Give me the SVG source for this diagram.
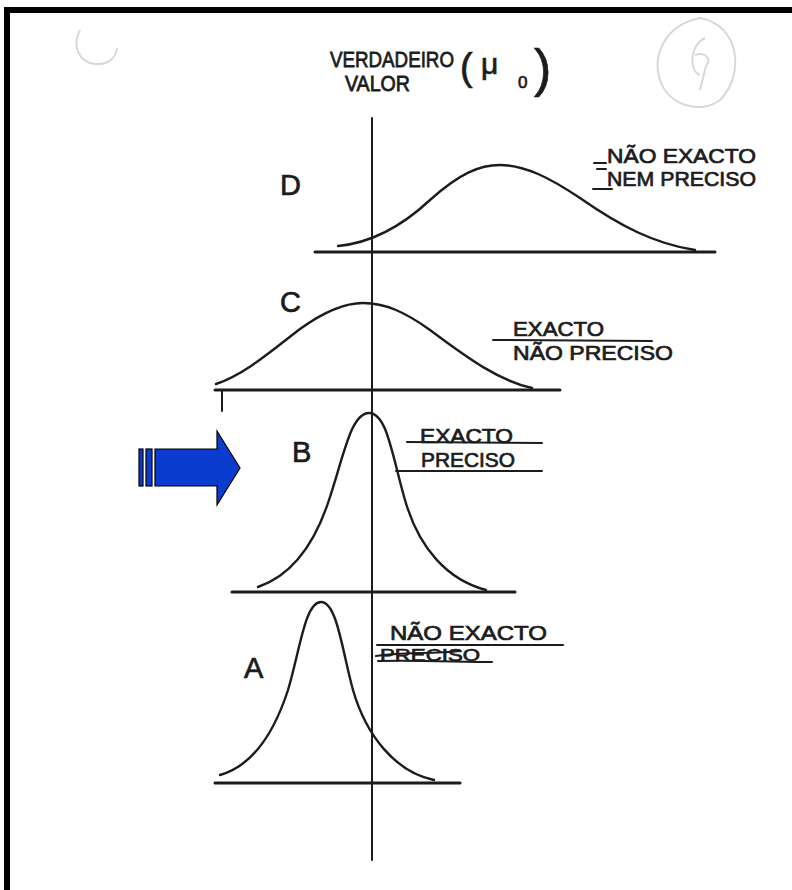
<svg xmlns="http://www.w3.org/2000/svg" width="792" height="890" viewBox="0 0 792 890">
<style>
.ink{fill:none;stroke:#1c1c1c;stroke-linecap:round;stroke-linejoin:round}
.curve{stroke-width:2.4}
.base{stroke-width:3}
.rule{stroke-width:2}
.lbl{font-family:"Liberation Sans","DejaVu Sans",Arial,sans-serif;fill:#1c1c1c;stroke:#1c1c1c;stroke-width:0.7}
.big{font-size:29px}
.txt{font-size:20px}
.faint{fill:none;stroke:#d8d8d8;stroke-width:2}
</style>
<rect x="0" y="0" width="792" height="890" fill="#ffffff"/>
<g id="frame">
<rect x="4" y="7" width="788" height="6" fill="#000"/>
<rect x="4" y="7" width="6" height="883" fill="#000"/>
</g>
<g id="scan-marks">
<path class="faint" d="M80,30 C72,45 78,62 95,64 C108,65 116,58 117,48"/>
<path class="faint" d="M700,18 C740,25 745,75 720,100 C700,115 668,105 660,80 C652,55 665,25 700,18"/>
<path class="faint" d="M705,38 C690,45 688,70 700,75 M695,55 C705,52 712,58 706,66 L700,90"/>
</g>
<g id="title">
<text class="lbl" x="0" y="0" font-size="19.5" transform="translate(330,67) scale(1,1.12)" textLength="124" lengthAdjust="spacingAndGlyphs">VERDADEIRO</text>
<text class="lbl" x="0" y="0" font-size="19.5" transform="translate(345,91) scale(1,1.12)" textLength="65" lengthAdjust="spacingAndGlyphs">VALOR</text>
<text class="lbl" x="460" y="80" font-size="38" stroke-width="0.3">(</text>
<text class="lbl" x="481" y="74" font-size="30" stroke-width="0.3">μ</text>
<text class="lbl" x="518" y="88" font-size="17">0</text>
<text class="lbl" x="534" y="86" font-size="52" stroke-width="0.3">)</text>
</g>
<g id="axis">
<line class="ink" x1="372" y1="118" x2="372" y2="860" stroke-width="2"/>
</g>
<g id="curve-D">
<line class="ink base" x1="315" y1="252" x2="715" y2="252"/>
<path class="ink curve" d="M338,246 C370,243 400,228 430,200 C460,173 480,165 500,165 C525,165 550,178 580,198 C620,226 655,244 695,250"/>
<text class="lbl big" x="280" y="195">D</text>
<text class="lbl txt" x="607" y="163" textLength="149" lengthAdjust="spacingAndGlyphs">NÃO EXACTO</text>
<text class="lbl txt" x="607" y="186" textLength="149" lengthAdjust="spacingAndGlyphs">NEM PRECISO</text>
<line class="ink rule" x1="594" y1="163" x2="606" y2="163" stroke-width="1.5"/>
<line class="ink rule" x1="597" y1="169" x2="606" y2="169" stroke-width="1.5"/>
<line class="ink rule" x1="593" y1="189" x2="612" y2="189" stroke-width="1.2" stroke="#555"/>
</g>
<g id="curve-C">
<line class="ink base" x1="215" y1="390" x2="560" y2="390"/>
<line class="ink rule" x1="222" y1="390" x2="222" y2="411"/>
<path class="ink curve" d="M216,384 C245,374 270,352 300,329 C325,311 345,303 363,303 C385,303 405,312 430,330 C470,360 500,381 532,388"/>
<text class="lbl big" x="280" y="312">C</text>
<text class="lbl txt" x="513" y="336" textLength="91" lengthAdjust="spacingAndGlyphs">EXACTO</text>
<text class="lbl txt" x="513" y="360" textLength="160" lengthAdjust="spacingAndGlyphs">NÃO PRECISO</text>
<line class="ink rule" x1="493" y1="340" x2="652" y2="341"/>
</g>
<g id="curve-B">
<line class="ink base" x1="232" y1="592" x2="515" y2="592"/>
<path class="ink curve" d="M258,587 C290,576 314,546 329,500 C344,455 351,413 369,413 C387,413 392,455 405,500 C419,549 448,580 486,590"/>
<text class="lbl big" x="292" y="462">B</text>
<text class="lbl txt" x="420" y="443" textLength="93" lengthAdjust="spacingAndGlyphs">EXACTO</text>
<text class="lbl txt" x="421" y="467" textLength="94" lengthAdjust="spacingAndGlyphs">PRECISO</text>
<line class="ink rule" x1="407" y1="442" x2="542" y2="443"/>
<line class="ink rule" x1="396" y1="471" x2="542" y2="471"/>
</g>
<g id="curve-A">
<line class="ink base" x1="215" y1="783" x2="460" y2="783"/>
<path class="ink curve" d="M220,775 C255,765 275,730 288,690 C300,650 305,602 321,602 C337,602 342,650 353,690 C366,735 395,772 434,780"/>
<text class="lbl big" x="244" y="678">A</text>
<text class="lbl txt" x="390" y="640" textLength="157" lengthAdjust="spacingAndGlyphs">NÃO  EXACTO</text>
<text class="lbl" x="380" y="661" font-size="17" textLength="100" lengthAdjust="spacingAndGlyphs">PRECISO</text>
<line class="ink rule" x1="377" y1="645" x2="563" y2="645"/>
<path class="ink rule" d="M376,656 C400,652 430,654 460,651 M378,661 C420,660 460,662 492,662" stroke-width="1.8"/>
</g>
<g id="arrow">
<rect x="139" y="449" width="4" height="37" fill="#0b3bcf" stroke="#000" stroke-width="1.2"/>
<rect x="146" y="449" width="6" height="37" fill="#0b3bcf" stroke="#000" stroke-width="1.2"/>
<path d="M155,449 L217,449 L217,431 L240,468 L217,505 L217,486 L155,486 Z" fill="#0b3bcf" stroke="#000" stroke-width="1.2" stroke-linejoin="miter"/>
</g>
</svg>
